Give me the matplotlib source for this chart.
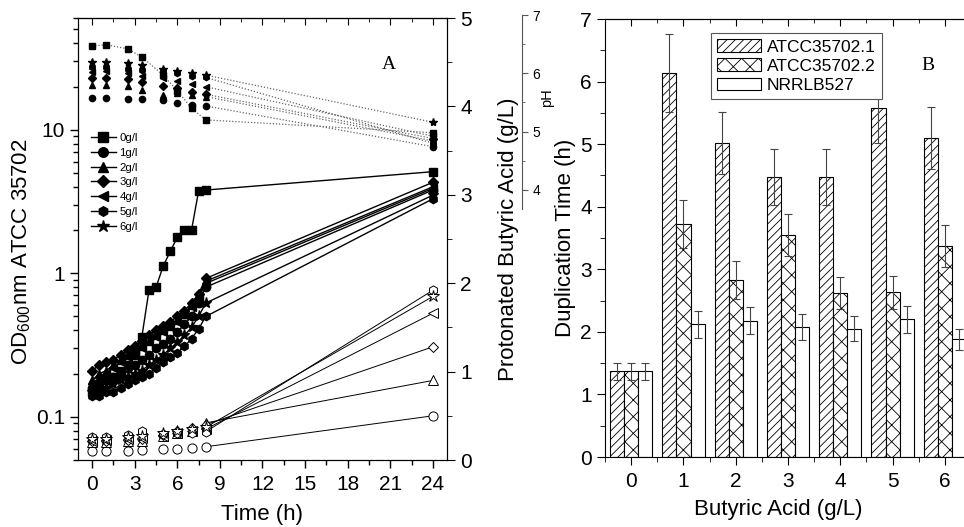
import matplotlib
matplotlib.use("Agg")
import matplotlib.pyplot as plt
from matplotlib.ticker import MultipleLocator, FixedLocator, NullFormatter

# ---------- Global style ----------

plt.rcParams["font.family"] = ["Liberation Sans", "DejaVu Sans"]
plt.rcParams["mathtext.default"] = "regular"
plt.rcParams["hatch.linewidth"] = 0.6

# ---------- Data: panel A ----------

CONC_LABELS = ["0g/l", "1g/l", "2g/l", "3g/l", "4g/l", "5g/l", "6g/l"]
MARKERS = ["s", "o", "^", "D", "<", "h", "*"]

OD_TIME = [0, 0.5, 1, 1.5, 2, 2.5, 3, 3.5, 4, 4.5, 5, 5.5, 6, 6.5, 7, 7.5, 8, 24]
OD_0G = [0.15, 0.16, 0.18, 0.19, 0.21, 0.23, 0.27, 0.36, 0.76, 0.80, 1.12, 1.42, 1.78, 2.0, 2.0, 3.75, 3.8, 5.1]
OD_1G = [0.16, 0.17, 0.18, 0.19, 0.20, 0.22, 0.23, 0.25, 0.27, 0.30, 0.32, 0.35, 0.39, 0.44, 0.50, 0.62, 0.80, 3.8]
OD_2G = [0.18, 0.20, 0.21, 0.23, 0.25, 0.27, 0.29, 0.31, 0.34, 0.37, 0.40, 0.43, 0.47, 0.52, 0.60, 0.70, 0.88, 4.0]
OD_3G = [0.21, 0.23, 0.24, 0.25, 0.27, 0.29, 0.31, 0.34, 0.37, 0.40, 0.43, 0.46, 0.50, 0.55, 0.62, 0.72, 0.92, 4.3]
OD_4G = [0.17, 0.18, 0.20, 0.22, 0.24, 0.26, 0.28, 0.30, 0.33, 0.36, 0.39, 0.42, 0.46, 0.51, 0.58, 0.68, 0.85, 3.9]
OD_5G = [0.14, 0.14, 0.15, 0.15, 0.16, 0.17, 0.18, 0.19, 0.20, 0.22, 0.24, 0.26, 0.28, 0.31, 0.35, 0.41, 0.50, 3.3]
OD_6G = [0.15, 0.15, 0.16, 0.17, 0.18, 0.19, 0.20, 0.21, 0.23, 0.25, 0.27, 0.30, 0.33, 0.37, 0.42, 0.50, 0.62, 3.5]

SAMPLE_TIME = [0, 1, 2.5, 3.5, 5, 6, 7, 8, 24]
PH_0G = [6.47, 6.49, 6.42, 6.28, 5.97, 5.70, 5.40, 5.20, 4.98]
PH_1G = [5.58, 5.58, 5.56, 5.56, 5.54, 5.49, 5.46, 5.44, 4.74]
PH_2G = [5.80, 5.80, 5.78, 5.72, 5.62, 5.66, 5.62, 5.60, 4.84]
PH_3G = [5.92, 5.92, 5.90, 5.85, 5.78, 5.74, 5.68, 5.64, 4.88]
PH_4G = [6.03, 6.04, 6.00, 5.95, 5.92, 5.86, 5.82, 5.77, 4.92]
PH_5G = [6.10, 6.10, 6.08, 6.05, 6.04, 6.00, 5.96, 5.93, 4.80]
PH_6G = [6.20, 6.20, 6.18, 6.15, 6.08, 6.04, 6.00, 5.97, 5.16]

# protonated butyric acid (g/L), no series for 0 g/l
BA_1G = [0.10, 0.10, 0.10, 0.11, 0.12, 0.13, 0.14, 0.15, 0.50]
BA_2G = [0.20, 0.20, 0.21, 0.22, 0.27, 0.30, 0.33, 0.42, 0.90]
BA_3G = [0.22, 0.22, 0.23, 0.24, 0.28, 0.33, 0.36, 0.40, 1.28]
BA_4G = [0.22, 0.23, 0.24, 0.25, 0.27, 0.30, 0.33, 0.35, 1.66]
BA_5G = [0.26, 0.26, 0.28, 0.33, 0.29, 0.30, 0.31, 0.32, 1.92]
BA_6G = [0.24, 0.24, 0.26, 0.27, 0.30, 0.33, 0.35, 0.37, 1.85]

# ---------- Data: panel B ----------

BUTYRIC = [0, 1, 2, 3, 4, 5, 6]
STRAINS = ["ATCC35702.1", "ATCC35702.2", "NRRLB527"]
DT_ATCC1 = [1.37, 6.14, 5.02, 4.48, 4.48, 5.57, 5.10]
DT_ATCC1_ERR = [0.14, 0.62, 0.50, 0.45, 0.45, 0.55, 0.50]
DT_ATCC2 = [1.37, 3.72, 2.83, 3.55, 2.62, 2.63, 3.37]
DT_ATCC2_ERR = [0.14, 0.38, 0.30, 0.34, 0.25, 0.27, 0.34]
DT_NRRL = [1.37, 2.12, 2.18, 2.08, 2.05, 2.20, 1.88]
DT_NRRL_ERR = [0.14, 0.21, 0.22, 0.21, 0.20, 0.22, 0.17]

TICK_FS = 15
LABEL_FS = 16


def panel_a(fig):
    ax = fig.add_axes([0.0809, 0.1271, 0.3828, 0.8387])
    ax2 = ax.twinx()
    ax3 = fig.add_axes([0.0809, 0.6034, 0.3828, 0.368])
    ax3.patch.set_visible(False)

    od = [OD_0G, OD_1G, OD_2G, OD_3G, OD_4G, OD_5G, OD_6G]
    ph = [PH_0G, PH_1G, PH_2G, PH_3G, PH_4G, PH_5G, PH_6G]
    ba = [None, BA_1G, BA_2G, BA_3G, BA_4G, BA_5G, BA_6G]

    handles = []
    for i, lab in enumerate(CONC_LABELS):
        m = MARKERS[i]
        ms = 6 if m not in ("*", "D") else (8 if m == "*" else 5)
        h, = ax.plot(OD_TIME, od[i], marker=m, ms=ms, color="black",
                     lw=1.0, label=lab)
        handles.append(h)

        # pH: dotted lines (full for 0 g/l, last segment for the rest)
        if i == 0:
            ax3.plot(SAMPLE_TIME, ph[i], ls=(0, (1, 1.5)), color="#666666", lw=0.9)
        else:
            ax3.plot(SAMPLE_TIME[-2:], ph[i][-2:], ls=(0, (1, 1.5)),
                     color="#666666", lw=0.9)
        ax3.plot(SAMPLE_TIME, ph[i], ls="none", marker=m,
                 ms=ms * 0.75, color="black")

        if ba[i] is not None:
            ax2.plot(SAMPLE_TIME[-2:], ba[i][-2:], color="black", lw=0.7)
            ax2.plot(SAMPLE_TIME, ba[i], ls="none", marker=m, ms=ms * 1.1,
                     mfc="white", mec="black", mew=0.7)

    # left axis: OD (log)
    ax.set_yscale("log")
    ax.set_ylim(0.05, 60)
    ax.set_xlim(-1, 25)
    ax.yaxis.set_major_locator(FixedLocator([0.1, 1, 10]))
    ax.set_yticklabels(["0.1", "1", "10"])
    ax.yaxis.set_minor_locator(FixedLocator(
        [k * 10.0 ** e for e in (-2, -1, 0, 1) for k in range(2, 10)]))
    ax.yaxis.set_minor_formatter(NullFormatter())
    ax.set_xticks(range(0, 25, 3))
    ax.xaxis.set_minor_locator(MultipleLocator(1.5))
    ax.tick_params(which="both", direction="out", labelsize=TICK_FS, top=False, right=False)
    ax.tick_params(which="major", length=6, width=1)
    ax.tick_params(which="minor", length=3.5, width=1)
    ax.tick_params(axis="x", pad=5)

    top = ax.secondary_xaxis("top")
    top.set_xticks(range(0, 25, 3))
    top.xaxis.set_minor_locator(MultipleLocator(1.5))
    top.tick_params(which="both", direction="in", labeltop=False)
    top.tick_params(which="major", length=5)
    top.tick_params(which="minor", length=3)

    ax.set_xlabel("Time (h)", fontsize=LABEL_FS)
    ax.xaxis.set_label_coords(0.50, -0.1)
    ax.set_ylabel("OD$_{600}$nm ATCC 35702", fontsize=LABEL_FS)
    ax.yaxis.set_label_coords(-0.122, 0.47)

    # right axis: protonated butyric acid
    ax2.set_ylim(0, 5)
    ax2.yaxis.set_major_locator(MultipleLocator(1))
    ax2.yaxis.set_minor_locator(MultipleLocator(0.5))
    ax2.tick_params(which="both", direction="out", labelsize=TICK_FS)
    ax2.tick_params(which="major", length=6)
    ax2.tick_params(which="minor", length=3.5)
    ax2.set_ylabel("Protonated Butyric Acid (g/L)", fontsize=LABEL_FS)
    ax2.yaxis.set_label_coords(1.138, 0.5)

    # offset pH axis
    ax3.set_xlim(-1, 25)
    ax3.set_ylim(3.67, 7.0)
    for s in ("left", "top", "bottom"):
        ax3.spines[s].set_visible(False)
    ax3.spines["right"].set_position(("axes", 1.203))
    ax3.spines["right"].set_color("#555555")
    ax3.set_xticks([])
    ax3.yaxis.tick_right()
    ax3.yaxis.set_major_locator(MultipleLocator(1))
    ax3.yaxis.set_minor_locator(MultipleLocator(0.5))
    ax3.tick_params(which="both", direction="out", labelsize=10, color="#555555")
    ax3.tick_params(which="major", length=4)
    ax3.tick_params(which="minor", length=2.5)
    ax.text(1.271, 0.82, "pH", transform=ax.transAxes, rotation=90,
            fontsize=10.5, ha="center", va="center")

    ax.text(0.843, 0.894, "A", transform=ax.transAxes, fontsize=14,
            family="Liberation Serif", ha="center", va="center")

    ax.legend(handles=handles, loc="upper left", bbox_to_anchor=(0.035, 0.74),
              frameon=False, fontsize=8.2, handlelength=2.2, handletextpad=0.3,
              labelspacing=0.42, borderaxespad=0, borderpad=0, markerscale=1.15)


def panel_b(fig):
    ax = fig.add_axes([0.6276, 0.1328, 0.3797, 0.8311])
    w = 0.27
    series = [(DT_ATCC1, DT_ATCC1_ERR, "////"),
              (DT_ATCC2, DT_ATCC2_ERR, "xx"),
              (DT_NRRL, DT_NRRL_ERR, "")]
    for k, (vals, errs, hatch) in enumerate(series):
        xs = [x + (k - 1) * w for x in BUTYRIC]
        ax.bar(xs, vals, width=w, color="white", edgecolor="black",
               linewidth=0.8, hatch=hatch, label=STRAINS[k])
        ax.errorbar(xs, vals, yerr=errs, fmt="none", ecolor="#444444",
                    elinewidth=0.8, capsize=3, capthick=0.8)

    ax.set_xlim(-0.5, 6.5)
    ax.set_ylim(0, 7)
    ax.set_xticks(BUTYRIC)
    ax.xaxis.set_minor_locator(MultipleLocator(0.5))
    ax.yaxis.set_major_locator(MultipleLocator(1))
    ax.yaxis.set_minor_locator(MultipleLocator(0.5))
    ax.tick_params(which="both", direction="out", labelsize=TICK_FS, top=False, right=False)
    ax.tick_params(which="major", length=6)
    ax.tick_params(which="minor", length=3.5)
    ax.tick_params(axis="x", pad=5)

    top = ax.secondary_xaxis("top")
    top.set_xticks(BUTYRIC)
    top.xaxis.set_minor_locator(MultipleLocator(0.5))
    top.tick_params(which="both", direction="in", labeltop=False)
    top.tick_params(which="major", length=5)
    top.tick_params(which="minor", length=3)

    ax.set_xlabel("Butyric Acid (g/L)", fontsize=LABEL_FS)
    ax.xaxis.set_label_coords(0.473, -0.095)
    ax.set_ylabel("Duplication Time (h)", fontsize=LABEL_FS)
    ax.yaxis.set_label_coords(-0.08, 0.5)

    ax.text(0.883, 0.895, "B", transform=ax.transAxes, fontsize=14,
            family="Liberation Serif", ha="center", va="center")

    leg = ax.legend(loc="upper left", bbox_to_anchor=(0.29, 0.968),
                    fontsize=12.5, handlelength=2.5, handleheight=0.75,
                    handletextpad=0.35, labelspacing=0.22, borderpad=0.35,
                    borderaxespad=0, fancybox=False, framealpha=1)
    leg.get_frame().set_edgecolor("#555555")
    leg.get_frame().set_linewidth(0.8)


def main():
    fig = plt.figure(figsize=(9.64, 5.27), dpi=100)
    panel_a(fig)
    panel_b(fig)
    fig.savefig("out.png", dpi=100, facecolor="white")


if __name__ == "__main__":
    main()
